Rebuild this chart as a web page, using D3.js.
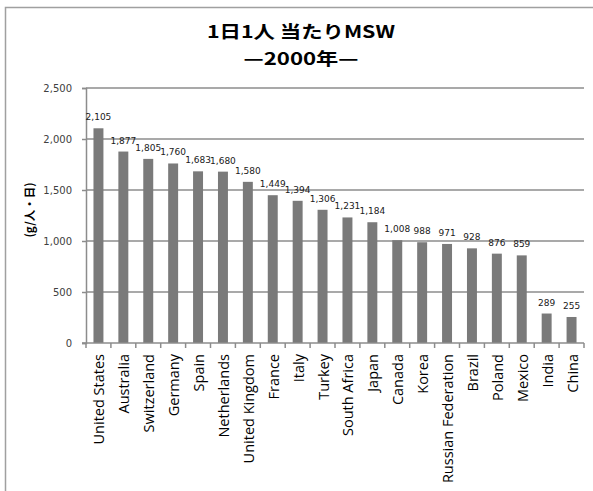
<!DOCTYPE html>
<html>
<head>
<meta charset="utf-8">
<script src="https://cdn.jsdelivr.net/npm/d3@7"></script>
<style>
  html, body { margin: 0; padding: 0; background: #fff; }
  svg { display: block; }
</style>
</head>
<body>
<svg id="chart" width="593" height="491"></svg>
<script>
// Municipal solid waste per person per day, 2000 (g/person/day)
const countries = ["United States", "Australia", "Switzerland", "Germany", "Spain",
  "Netherlands", "United Kingdom", "France", "Italy", "Turkey", "South Africa",
  "Japan", "Canada", "Korea", "Russian Federation", "Brazil", "Poland", "Mexico",
  "India", "China"];
const mswValues = [2105, 1877, 1805, 1760, 1683, 1680, 1580, 1449, 1394, 1306, 1231,
  1184, 1008, 988, 971, 928, 876, 859, 289, 255];
const yTicks = [0, 500, 1000, 1500, 2000, 2500];
const titleLines = ["1日1人 当たりMSW", "—2000年—"];
const yTitle = "(g/人・日)";

const svg = d3.select("#chart");
const W = 593, H = 491;
const plot = { left: 86, right: 584, top: 88, bottom: 343 };

// outer chart frame (runs off the right and bottom edges)
svg.append("rect")
  .attr("x", 5.5).attr("y", 7.5)
  .attr("width", W + 10).attr("height", H + 10)
  .attr("fill", "none").attr("stroke", "#a0a0a0").attr("stroke-width", 1.5);

const x = d3.scaleBand().domain(countries).range([plot.left, plot.right]).paddingInner(0.6).paddingOuter(0.3);
const y = d3.scaleLinear().domain([0, 2500]).range([plot.bottom, plot.top]);

// horizontal gridlines
svg.append("g").selectAll("line").data(yTicks.filter(d => d > 0)).join("line")
  .attr("x1", plot.left).attr("x2", plot.right)
  .attr("y1", d => y(d)).attr("y2", d => y(d))
  .attr("stroke", "#8c8c8c").attr("stroke-width", 1.5);

// bars
svg.append("g").selectAll("rect").data(countries).join("rect")
  .attr("x", (d) => x(d))
  .attr("width", x.bandwidth())
  .attr("y", (d, i) => y(mswValues[i]))
  .attr("height", (d, i) => y(0) - y(mswValues[i]))
  .attr("fill", "#7a7a7a");

// y axis
const yAxis = svg.append("g")
  .attr("transform", `translate(${plot.left},0)`)
  .call(d3.axisLeft(y).tickValues(yTicks).tickSize(4).tickPadding(10)
    .tickFormat(d3.format(",")));
yAxis.select(".domain").attr("stroke", "#8c8c8c").attr("stroke-width", 1.5);
yAxis.selectAll(".tick line").attr("stroke", "#8c8c8c").attr("stroke-width", 1.5);
yAxis.selectAll("text").attr("font-family", "DejaVu Sans").attr("font-size", 10).attr("fill", "#404040");

// x axis with ticks between categories
const xAxisG = svg.append("g").attr("transform", `translate(0,${plot.bottom})`);
xAxisG.append("line").attr("x1", plot.left - 4).attr("x2", plot.right)
  .attr("stroke", "#8c8c8c").attr("stroke-width", 1.5);
const boundaries = d3.range(countries.length + 1).map(i => plot.left + i * (plot.right - plot.left) / countries.length);
xAxisG.selectAll("line.tk").data(boundaries).join("line").attr("class", "tk")
  .attr("x1", d => d).attr("x2", d => d).attr("y1", 0).attr("y2", 5)
  .attr("stroke", "#8c8c8c").attr("stroke-width", 1.5);
xAxisG.selectAll("text").data(countries).join("text")
  .attr("transform", d => `translate(${x(d) + x.bandwidth() / 2 + 6},11) rotate(-90)`)
  .attr("text-anchor", "end")
  .attr("font-family", "Open Sans").attr("font-size", 14.5).attr("fill", "#000")
  .text(d => d);

// value labels
const fmt = d3.format(",");
svg.append("g").selectAll("text").data(countries).join("text")
  .attr("x", d => x(d) + x.bandwidth() / 2)
  .attr("y", (d, i) => y(mswValues[i]) - 8)
  .attr("text-anchor", "middle")
  .attr("font-family", "DejaVu Sans").attr("font-size", 9).attr("fill", "#202020")
  .text((d, i) => fmt(mswValues[i]));

// titles
const titleWidths = [188, 115];
svg.append("g").selectAll("text").data(titleLines).join("text")
  .attr("x", 301).attr("y", (d, i) => 38 + i * 27)
  .attr("text-anchor", "middle")
  .attr("font-family", "Noto Sans CJK JP").attr("font-weight", "bold").attr("font-size", 17.5)
  .attr("textLength", (d, i) => titleWidths[i]).attr("lengthAdjust", "spacingAndGlyphs")
  .attr("fill", "#000")
  .text(d => d);

svg.append("text")
  .attr("transform", "translate(34,210) rotate(-90)")
  .attr("text-anchor", "middle")
  .attr("font-family", "Noto Sans CJK JP").attr("font-weight", "bold").attr("font-size", 11.5)
  .attr("textLength", 55).attr("lengthAdjust", "spacingAndGlyphs")
  .attr("fill", "#000")
  .text(yTitle);
</script>
</body>
</html>
